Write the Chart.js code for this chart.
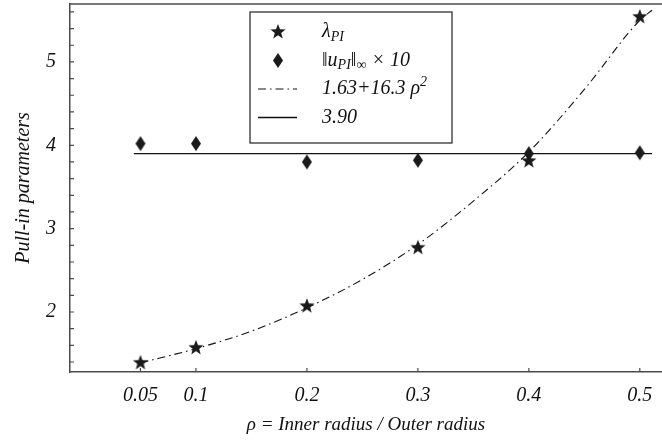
<!DOCTYPE html>
<html lang="en">
  <head>
    <meta charset="UTF-8" />
    <title>Pull-in parameters</title>
    <script src="https://cdn.jsdelivr.net/npm/chart.js"></script>
    <style>
      body { margin: 0; background: #fff; }
      .wrap { width: 662px; height: 445px; }
    </style>
  </head>
  <body>
    <div class="wrap"><canvas id="pullChart" width="662" height="445"></canvas></div>

    <script>
      // data
      const rho = [0.05, 0.1, 0.2, 0.3, 0.4, 0.5];
      const lambdaPI = [1.39, 1.57, 2.07, 2.77, 3.81, 5.54];
      const uPIx10 = [4.02, 4.02, 3.8, 3.82, 3.9, 3.91];

      const fitRho = [0.05, 0.1, 0.15, 0.2, 0.25, 0.3, 0.35, 0.4, 0.45, 0.5, 0.511];
      const fitVal = [1.39, 1.56, 1.77, 2.05, 2.39, 2.81, 3.33, 3.92, 4.67, 5.5, 5.62];

      const flatRho = [0.044, 0.511];
      const flatVal = [3.9, 3.9];

      const xTicks = [0.05, 0.1, 0.2, 0.3, 0.4, 0.5];
      const xTickLabels = ["0.05", "0.1", "0.2", "0.3", "0.4", "0.5"];
      const yTicks = [1.4, 1.6, 1.8, 2, 2.2, 2.4, 2.6, 2.8, 3, 3.2, 3.4, 3.6, 3.8, 4, 4.2, 4.4, 4.6, 4.8, 5, 5.2, 5.4, 5.6];
      const yTickLabels = { 2: "2", 3: "3", 4: "4", 5: "5" };

      const serif = "'Liberation Serif', 'DejaVu Serif', serif";
      const ink = "#111";
      const axisCol = "#4a4a4a";

      // marker images
      function starImg(r) {
        const c = document.createElement("canvas");
        c.width = c.height = r * 2 + 2;
        const g = c.getContext("2d");
        g.translate(r + 1, r + 1);
        g.beginPath();
        for (let i = 0; i < 10; i++) {
          const rad = i % 2 === 0 ? r : r * 0.42;
          const a = -Math.PI / 2 + (i * Math.PI) / 5;
          g.lineTo(rad * Math.cos(a), rad * Math.sin(a));
        }
        g.closePath();
        g.fillStyle = "#1a1a1a";
        g.fill();
        return c;
      }
      function diamondImg(w, h) {
        const c = document.createElement("canvas");
        c.width = w * 2 + 2;
        c.height = h * 2 + 2;
        const g = c.getContext("2d");
        g.translate(w + 1, h + 1);
        g.beginPath();
        g.moveTo(0, -h);
        g.lineTo(w, 0);
        g.lineTo(0, h);
        g.lineTo(-w, 0);
        g.closePath();
        g.fillStyle = "#1a1a1a";
        g.fill();
        return c;
      }
      const star = starImg(8);
      const diamond = diamondImg(5, 7.5);

      function noPad(s) {
        s.paddingTop = 0;
        s.paddingBottom = 0;
        s.paddingLeft = 0;
        s.paddingRight = 0;
      }

      // top border + inward ticks
      const frame = {
        id: "frame",
        afterDraw(chart) {
          const { ctx, chartArea: a, scales } = chart;
          ctx.save();
          ctx.strokeStyle = axisCol;
          ctx.lineWidth = 1.5;
          ctx.beginPath();
          ctx.moveTo(a.left, a.top);
          ctx.lineTo(a.right, a.top);
          ctx.stroke();
          ctx.lineWidth = 1.2;
          ctx.beginPath();
          yTicks.forEach((v) => {
            const py = scales.y.getPixelForValue(v);
            ctx.moveTo(a.left, py);
            ctx.lineTo(a.left + 4, py);
          });
          xTicks.forEach((v) => {
            const px = scales.x.getPixelForValue(v);
            ctx.moveTo(px, a.bottom);
            ctx.lineTo(px, a.bottom - 4);
          });
          ctx.stroke();
          ctx.restore();
        },
      };

      // legend box with sub/superscripts
      function runs(ctx, x, y, parts) {
        parts.forEach(([t, size, dy, style]) => {
          ctx.font = (style || "italic") + " " + size + "px " + serif;
          ctx.fillText(t, x, y + dy);
          x += ctx.measureText(t).width;
        });
      }
      const legendBox = {
        id: "legendBox",
        afterDraw(chart) {
          const ctx = chart.ctx;
          const bx = 250, by = 12, bw = 202, bh = 131;
          const sx = 278, tx = 322;
          const rows = [32, 60.5, 89, 117.5];
          ctx.save();
          ctx.fillStyle = "#fff";
          ctx.fillRect(bx, by, bw, bh);
          ctx.strokeStyle = "#222";
          ctx.lineWidth = 1.2;
          ctx.strokeRect(bx, by, bw, bh);

          ctx.drawImage(star, sx - star.width / 2, rows[0] - star.height / 2);
          ctx.drawImage(diamond, sx - diamond.width / 2, rows[1] - diamond.height / 2);

          ctx.strokeStyle = ink;
          ctx.lineWidth = 1;
          ctx.setLineDash([8, 4, 1.5, 4]);
          ctx.beginPath();
          ctx.moveTo(258, rows[2]);
          ctx.lineTo(297, rows[2]);
          ctx.stroke();
          ctx.setLineDash([]);
          ctx.lineWidth = 1.3;
          ctx.beginPath();
          ctx.moveTo(258, rows[3]);
          ctx.lineTo(297, rows[3]);
          ctx.stroke();

          ctx.fillStyle = ink;
          ctx.textBaseline = "middle";
          runs(ctx, tx, rows[0], [["λ", 20, 0], ["PI", 14, 5]]);
          runs(ctx, tx, rows[1], [
            ["‖", 20, 0, "normal"], ["u", 20, 0], ["PI", 14, 5],
            ["‖", 20, 0, "normal"], ["∞", 14, 5, "normal"], [" × 10", 20, 0],
          ]);
          runs(ctx, tx, rows[2], [["1.63+16.3 ρ", 20, 0], ["2", 14, -7]]);
          runs(ctx, tx, rows[3], [["3.90", 20, 0]]);
          ctx.restore();
        },
      };

      new Chart(document.getElementById("pullChart"), {
        type: "scatter",
        data: {
          datasets: [
            {
              label: "lambdaPI",
              data: rho.map((r, i) => ({ x: r, y: lambdaPI[i] })),
              pointStyle: star,
              showLine: false,
            },
            {
              label: "uPIx10",
              data: rho.map((r, i) => ({ x: r, y: uPIx10[i] })),
              pointStyle: diamond,
              showLine: false,
            },
            {
              label: "fit",
              data: fitRho.map((r, i) => ({ x: r, y: fitVal[i] })),
              showLine: true,
              borderColor: ink,
              borderWidth: 1.1,
              borderDash: [8, 4, 1.5, 4],
              cubicInterpolationMode: "monotone",
              pointRadius: 0,
            },
            {
              label: "3.90",
              data: flatRho.map((r, i) => ({ x: r, y: flatVal[i] })),
              showLine: true,
              borderColor: ink,
              borderWidth: 1.4,
              pointRadius: 0,
            },
          ],
        },
        options: {
          responsive: false,
          animation: false,
          events: [],
          layout: { autoPadding: false, padding: { top: 4, right: 0, left: 0, bottom: 0 } },
          plugins: { legend: { display: false }, tooltip: { enabled: false } },
          scales: {
            x: {
              type: "linear",
              min: -0.0135,
              max: 0.52,
              afterFit: (s) => { s.height = 73; noPad(s); },
              afterBuildTicks: (s) => { s.ticks = xTicks.map((v) => ({ value: v })); },
              grid: { display: false, drawTicks: false },
              border: { color: axisCol, width: 1.5 },
              ticks: {
                padding: 12,
                color: ink,
                font: { family: serif, style: "italic", size: 20 },
                callback: (v) => xTickLabels[xTicks.indexOf(v)] ?? "",
              },
              title: {
                display: true,
                text: "ρ = Inner radius / Outer radius",
                color: ink,
                font: { family: serif, style: "italic", size: 19 },
                padding: { bottom: 9 },
              },
            },
            y: {
              min: 1.28,
              max: 5.695,
              afterFit: (s) => { s.width = 70; noPad(s); },
              afterBuildTicks: (s) => { s.ticks = yTicks.map((v) => ({ value: v })); },
              grid: { display: false, drawTicks: false },
              border: { color: axisCol, width: 1.5 },
              ticks: {
                padding: 14,
                color: ink,
                autoSkip: false,
                font: { family: serif, style: "italic", size: 20 },
                callback: (v) => yTickLabels[Math.round(v * 10) / 10] ?? "",
              },
              title: {
                display: true,
                text: "Pull-in parameters",
                color: ink,
                font: { family: serif, style: "italic", size: 20 },
                padding: { top: 12 },
              },
            },
          },
        },
        plugins: [frame, legendBox],
      });
    </script>
  </body>
</html>
